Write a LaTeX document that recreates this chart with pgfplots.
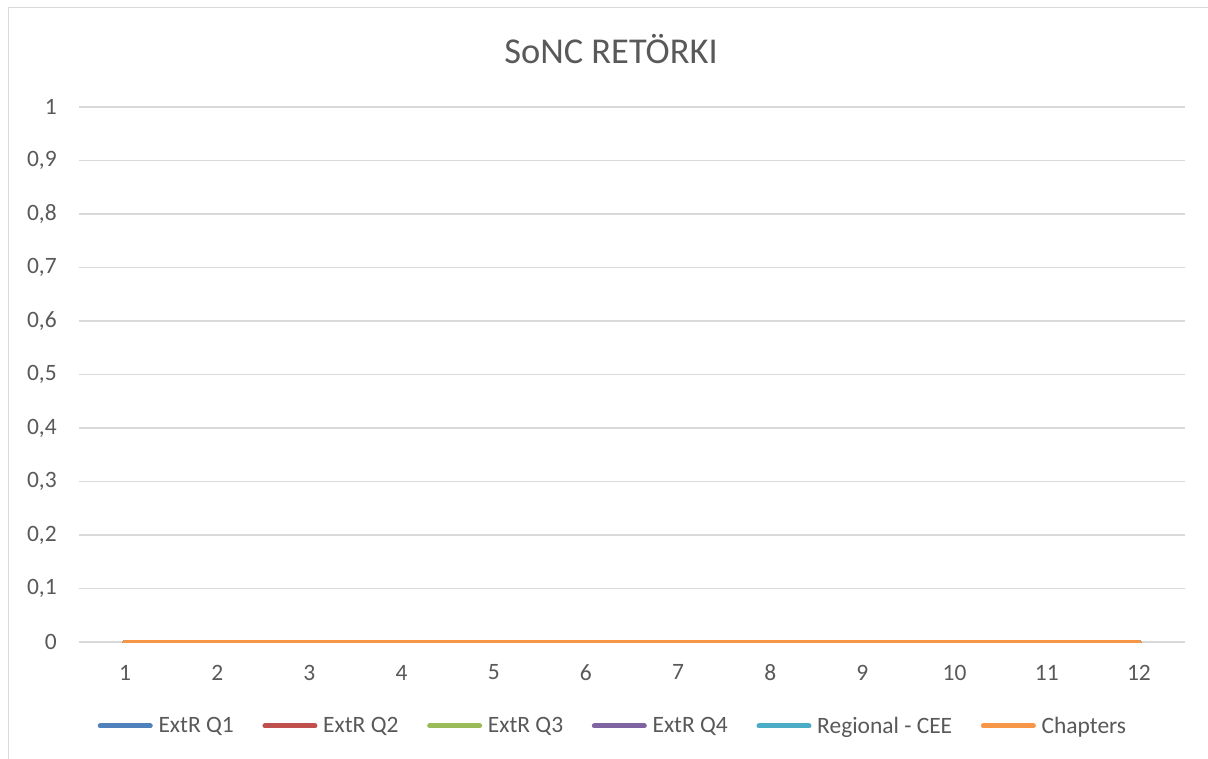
\documentclass[border=0pt]{standalone}
\usepackage{pgfplots}
\usepackage{pgfplotstable}
\pgfplotsset{compat=1.18}
\usepackage{fontspec}
\setmainfont{Carlito}

\definecolor{txt}{HTML}{595959}
\definecolor{grd}{HTML}{D9D9D9}
\definecolor{cA}{HTML}{4F81BD}
\definecolor{cB}{HTML}{C0504D}
\definecolor{cC}{HTML}{9BBB59}
\definecolor{cD}{HTML}{8064A2}
\definecolor{cE}{HTML}{4BACC6}
\definecolor{cF}{HTML}{F79646}

% all series are zero in every month
\pgfplotstableread{
x  q1 q2 q3 q4 reg chap
1  0  0  0  0  0   0
2  0  0  0  0  0   0
3  0  0  0  0  0   0
4  0  0  0  0  0   0
5  0  0  0  0  0   0
6  0  0  0  0  0   0
7  0  0  0  0  0   0
8  0  0  0  0  0   0
9  0  0  0  0  0   0
10 0  0  0  0  0   0
11 0  0  0  0  0   0
12 0  0  0  0  0   0
}\sonc

\begin{document}
\begin{tikzpicture}
\useasboundingbox[fill=white] (0pt,0pt) rectangle (906pt,568.5pt);
\draw[grd, line width=1.1pt] (6.4pt,-20pt) rectangle (930pt,562.9pt);
\node[anchor=base, text=txt, font=\fontsize{27.3}{31}\selectfont] at (458.3pt,521pt) {SoNC RETÖRKI};
\begin{axis}[
    at={(59.25pt,87pt)}, anchor=south west,
    scale only axis,
    width=829.5pt, height=401.25pt,
    xmin=0.5, xmax=12.5,
    ymin=0, ymax=1,
    xtick={1,...,12},
    ytick={0,0.1,...,1},
    major tick length=0pt,
    axis line style={draw=none},
    ymajorgrids=true,
    grid style={grd, line width=1.1pt},
    /pgf/number format/assume math mode=true,
    /pgf/number format/use comma,
    /pgf/number format/fixed,
    ticklabel style={text=txt, font=\fontsize{17.6}{21}\selectfont, inner sep=0pt},
    yticklabel style={anchor=east, xshift=-16.5pt},
    xticklabel style={anchor=north, yshift=-17pt},
    legend style={draw=none, fill=none, text=txt, font=\fontsize{17.6}{21}\selectfont,
        at={(0.4828,-0.157)}, anchor=center,
        nodes={inner xsep=1.5pt, inner ysep=1pt},
        /tikz/every odd column/.append style={column sep=2.8pt},
        /tikz/every even column/.append style={column sep=20pt}},
    legend columns=6,
    legend image code/.code={\draw[#1, line width=3.75pt, line cap=round] (1.9pt,0pt) -- (39.4pt,0pt);},
    every axis plot/.append style={line width=3.75pt, line cap=round, line join=round, mark=none},
]
\addplot[cA] table[x=x, y=q1] {\sonc};
\addplot[cB] table[x=x, y=q2] {\sonc};
\addplot[cC] table[x=x, y=q3] {\sonc};
\addplot[cD] table[x=x, y=q4] {\sonc};
\addplot[cE] table[x=x, y=reg] {\sonc};
\addplot[cF] table[x=x, y=chap] {\sonc};
\legend{ExtR Q1, ExtR Q2, ExtR Q3, ExtR Q4, Regional - CEE, Chapters}
\end{axis}
\end{tikzpicture}
\end{document}
